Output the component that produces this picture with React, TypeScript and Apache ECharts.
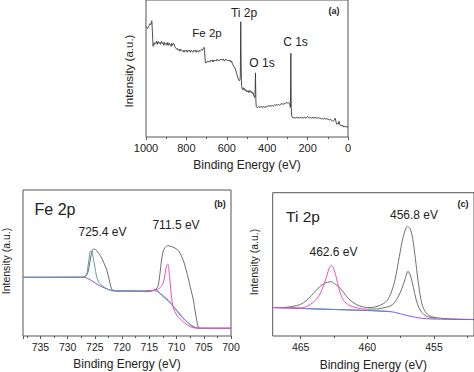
import { useEffect, useRef } from "react";
import * as echarts from "echarts";

const FONT = "'Liberation Sans', Arial, sans-serif";

// ---------- Panel (a): survey spectrum [binding energy eV, intensity a.u.] ----------
const surveyTicks = [1000, 800, 600, 400, 200, 0];
const surveyData: number[][] = [
  [1000, 112], [996, 111], [992, 110], [988, 112], [985, 113], [980, 115], [976, 114], [973, 117], [971, 118], [969, 110],
  [967, 100], [965, 92], [962, 95], [958, 94], [955, 96], [951, 95], [948, 97], [944, 94], [940, 97], [936, 95],
  [932, 96], [928, 94], [924, 97], [920, 95], [916, 96], [912, 93], [908, 96], [904, 94], [900, 95], [896, 93],
  [892, 96], [888, 93], [884, 95], [880, 94], [876, 92], [872, 95], [868, 93], [864, 95], [860, 94], [856, 91],
  [852, 90], [848, 89], [844, 90], [840, 88], [836, 89], [832, 87], [828, 89], [824, 88], [820, 87], [816, 88],
  [812, 86], [808, 88], [804, 87], [800, 88], [796, 86], [792, 88], [788, 87], [784, 88], [780, 86], [776, 88],
  [772, 87], [768, 86], [764, 88], [760, 87], [756, 88], [752, 86], [748, 88], [744, 87], [740, 86], [736, 88],
  [732, 87], [728, 88], [724, 89], [720, 88], [716, 90], [712, 91], [710, 88], [708, 80], [706, 76], [703, 75],
  [700, 76], [696, 77], [692, 76], [688, 77], [684, 76], [680, 78], [676, 77], [672, 78], [668, 76], [664, 78],
  [660, 77], [656, 78], [652, 77], [648, 79], [644, 78], [640, 77], [636, 78], [632, 79], [628, 78], [624, 79],
  [620, 78], [616, 79], [612, 77], [608, 78], [604, 79], [600, 78], [596, 77], [592, 78], [588, 77], [584, 78],
  [580, 76], [576, 77], [572, 74], [568, 73], [564, 71], [560, 70], [556, 68], [552, 65], [548, 62], [545, 60],
  [542, 58], [538, 57], [535, 58], [533, 62], [531, 117], [529, 72], [527, 52], [524, 49], [521, 48], [518, 50],
  [515, 48], [512, 49], [509, 47], [506, 48], [503, 46], [500, 47], [497, 46], [494, 47], [491, 45], [488, 47],
  [485, 46], [482, 47], [479, 45], [476, 46], [473, 44], [470, 45], [467, 42], [464, 41], [462, 40], [460, 44],
  [458, 65], [456, 36], [454, 31], [451, 30], [446, 30], [442, 31], [438, 30], [434, 31], [430, 30], [426, 31],
  [422, 30], [418, 31], [414, 30], [410, 31], [406, 30], [402, 31], [398, 31], [394, 32], [390, 31], [386, 32],
  [382, 31], [378, 32], [374, 32], [370, 31], [366, 32], [362, 33], [358, 32], [354, 33], [350, 32], [346, 33],
  [342, 33], [338, 32], [334, 33], [330, 34], [326, 33], [322, 34], [318, 33], [314, 34], [310, 34], [306, 35],
  [302, 35], [298, 34], [294, 35], [290, 34], [287, 32], [285, 30], [283, 85], [281, 30], [279, 22], [276, 20],
  [272, 20], [268, 19], [264, 20], [260, 19], [256, 20], [252, 20], [248, 19], [244, 20], [240, 19], [236, 20],
  [232, 20], [228, 19], [224, 20], [220, 19], [216, 20], [212, 20], [208, 19], [204, 20], [200, 21], [196, 20],
  [192, 19], [188, 20], [184, 20], [180, 19], [176, 20], [172, 19], [168, 20], [164, 19], [160, 20], [156, 19],
  [152, 19], [148, 20], [144, 19], [140, 19], [136, 19], [132, 18], [128, 19], [124, 19], [120, 18], [116, 19],
  [112, 18], [108, 19], [104, 18], [100, 18], [96, 18], [92, 17], [88, 18], [84, 17], [80, 17], [76, 16],
  [72, 16], [68, 17], [64, 19], [61, 17], [58, 14], [55, 13], [52, 14], [49, 13], [46, 15], [44, 16],
  [42, 13], [38, 12], [34, 12], [30, 11], [26, 12], [22, 10], [18, 11], [14, 10], [10, 11], [5, 10], [0, 10],
];

// ---------- Panel (b): Fe 2p ----------
const feRaw: number[][] = [
  [738.2, 58.7], [734, 58.7], [730, 58.8], [728, 58.8], [727.2, 59], [726.8, 59.5], [726.4, 62], [726.1, 68],
  [725.8, 78], [725.5, 85], [725.25, 87], [724.9, 86.5], [724.5, 84], [724.0, 80.5], [723.5, 75], [723.1, 70],
  [722.7, 64], [722.4, 57], [722.1, 50], [721.8, 46], [721.3, 45.2], [720, 45], [718, 45], [716.5, 44.8],
  [715.8, 44.3], [715, 44.6], [714.2, 45.5], [713.8, 46.7], [713.4, 50], [713.1, 60], [712.8, 74], [712.5, 84],
  [712.1, 88.5], [711.6, 90.3], [711.0, 89.5], [710.3, 88], [709.6, 85], [709.1, 80], [708.6, 73], [708.2, 65],
  [707.85, 58], [707.4, 47], [706.9, 36], [706.6, 25], [706.3, 16], [706.0, 9], [705.6, 7.8], [703, 7.7], [700, 7.7],
];
const feTeal: number[][] = [
  [738.2, 58.7], [730, 58.7], [727, 58.7], [726.6, 60], [726.3, 68], [726.0, 80], [725.8, 85], [725.6, 85],
  [725.3, 78], [725.0, 69], [724.7, 60], [724.3, 54], [723.8, 51], [723.2, 48.5], [722.5, 46.5], [721.9, 45.2],
  [718, 44.8], [716, 44.8], [714.2, 45.5], [713.7, 46], [712.8, 41], [712, 37], [711.2, 33.5], [710.4, 28],
  [709.7, 24.3], [708.8, 18], [708, 14], [707.5, 11], [706.9, 9], [706.3, 7.8], [705, 7.7], [700, 7.7],
];
const fePurple: number[][] = [
  [738.2, 58.7], [730, 58.7], [727, 58.6], [726.3, 57.5], [725.5, 55], [724.8, 52.5], [724, 50], [723.2, 48],
  [722.4, 46.3], [721.6, 45.3], [720, 45], [716, 45], [714.2, 45.6], [713.5, 44.5], [712.5, 40.5], [711.5, 35.5],
  [710.5, 29], [709.5, 22], [708.5, 16], [707.5, 11.5], [706.5, 8.5], [705.5, 7.7], [700, 7.7],
];
const feMagenta: number[][] = [
  [715.5, 45], [714.5, 45.6], [713.8, 46.3], [713.3, 47.2], [712.8, 49.5], [712.4, 54], [712.1, 62],
  [711.85, 70], [711.6, 72], [711.4, 66], [711.2, 55], [711.0, 43], [710.8, 34], [710.5, 27], [710.1, 22],
  [709.5, 18], [708.5, 13], [707.6, 9.5], [706.5, 8], [705.5, 7.7], [700, 7.7],
];

// ---------- Panel (c): Ti 2p ----------
const tiTicks = [465, 460, 455];
const tiMinorTicks = [462.5, 457.5, 452.5];
const tiRaw: number[][] = [
  [467.1, 28.6], [466.5, 28.6], [466, 29], [465.5, 30], [465, 31.8], [464.6, 35.5], [464.2, 40.5], [463.8, 46.5],
  [463.4, 51.5], [463, 54], [462.7, 54.5], [462.4, 52], [462, 47.5], [461.6, 40.5], [461.2, 35], [460.8, 31.5],
  [460.4, 29.5], [460, 28.6], [459.6, 28.8], [459.2, 30], [458.8, 32.5], [458.5, 36], [458.2, 44], [457.9, 58],
  [457.6, 80], [457.3, 100], [457, 110], [456.8, 108], [456.6, 98], [456.4, 78], [456.2, 56], [456, 38],
  [455.8, 28], [455.5, 22], [455.2, 19.5], [454.8, 18.4], [454.3, 17.6], [453.5, 17.1], [452.8, 16.8], [452, 16.6],
];
const tiInner: number[][] = [
  [460, 27], [459.2, 27.3], [458.7, 28.5], [458.3, 30], [458, 33], [457.7, 39], [457.4, 48], [457.15, 58],
  [456.95, 65], [456.75, 60], [456.55, 49], [456.35, 37], [456.15, 29], [455.9, 23.5], [455.6, 20], [455.2, 18.5],
  [454.8, 18],
];
const tiMagenta: number[][] = [
  [467.1, 28.5], [466, 28.2], [465, 28.2], [464.5, 30], [464, 34.5], [463.6, 41], [463.3, 50], [463.05, 60],
  [462.85, 69], [462.7, 71], [462.5, 67], [462.3, 57], [462.05, 44], [461.8, 36], [461.4, 31], [461, 29],
  [460.5, 27.5], [460, 27],
];
const tiPurple: number[][] = [
  [467.1, 28.7], [466, 28.2], [465, 27.7], [464, 27.2], [463, 26.8], [462, 26.4], [461, 26], [460, 25.6],
  [459, 25], [458.5, 24.6], [458.1, 24.2], [457.7, 23], [457.35, 21.7], [457, 20.5], [456.6, 19.4], [456.2, 18.3],
  [455.86, 17.7], [455.3, 17.2], [454.5, 16.9], [453.5, 16.7], [452, 16.5],
];
const tiTeal: number[][] = [
  [467.1, 28.6], [466, 28.2], [465, 27.8], [464, 27.3], [463, 26.9], [462, 26.5], [461, 26.1], [460, 25.8],
  [459, 25.2], [458.3, 24.7],
];

const GRAY = "#6f6f6f";
const TEAL = "#5f9ea3";
const PURPLE = "#8a55d6";
const MAGENTA = "#f04ccb";
const BLUE = "#5a90bb";
const TXT = "#222";

function line(data: number[][], color: string, xi: number, smooth: number | boolean, width = 1) {
  return {
    type: "line",
    xAxisIndex: xi,
    yAxisIndex: xi,
    data,
    showSymbol: false,
    symbol: "none",
    smooth,
    lineStyle: { color, width },
    silent: true,
  };
}

function text(t: string, x: number, y: number, size: number, bold = false, rotate = 0) {
  return {
    type: "text",
    x,
    y,
    rotation: rotate,
    silent: true,
    style: {
      text: t,
      fill: TXT,
      font: `${bold ? "bold " : ""}${size}px ${FONT}`,
      align: "center",
      verticalAlign: "middle",
    },
  };
}

const plain = (v: number) => String(v);

export default function App() {
  const ref = useRef<HTMLDivElement>(null);

  useEffect(() => {
    if (!ref.current) return;
    const chart = echarts.init(ref.current, undefined, { renderer: "svg" });

    const gridBase = { show: true, borderColor: "#555", borderWidth: 1, backgroundColor: "transparent" };
    const xBase = {
      type: "value",
      inverse: true,
      position: "bottom",
      axisLine: { show: false },
      splitLine: { show: false },
      nameLocation: "middle",
      nameTextStyle: { fontFamily: FONT, fontSize: 12, color: TXT },
    };
    const yBase = {
      type: "value",
      min: 0,
      show: false,
      splitLine: { show: false },
    };

    chart.setOption({
      animation: false,
      backgroundColor: "#fff",
      grid: [
        { ...gridBase, left: 146, right: 126, top: -2, bottom: 235 },
        { ...gridBase, left: 23, right: 243, top: 190, bottom: 36 },
        { ...gridBase, left: 272.7, right: -1, top: 192.7, bottom: 35.3 },
      ],
      xAxis: [
        {
          ...xBase,
          gridIndex: 0,
          min: 0,
          max: 1000,
          interval: 200,
          name: "Binding Energy (eV)",
          nameGap: 22,
          axisTick: { show: true, inside: false, length: 3, lineStyle: { color: "#555" } },
          minorTick: { show: true, splitNumber: 2, length: 2, lineStyle: { color: "#555" } },
          axisLabel: {
            margin: 5,
            fontFamily: FONT,
            fontSize: 11,
            color: TXT,
            formatter: plain,
            customValues: surveyTicks,
          },
        },
        {
          ...xBase,
          gridIndex: 1,
          min: 700,
          max: 738.2,
          interval: 5,
          name: "Binding Energy (eV)",
          nameGap: 22,
          axisTick: { show: true, inside: false, length: 3, lineStyle: { color: "#555" } },
          minorTick: { show: true, splitNumber: 2, length: 2, lineStyle: { color: "#555" } },
          axisLabel: { margin: 5, fontFamily: FONT, fontSize: 10.5, color: TXT, formatter: plain, showMaxLabel: false },
        },
        {
          ...xBase,
          gridIndex: 2,
          min: 452,
          max: 467.1,
          name: "Binding Energy (eV)",
          nameGap: 23,
          axisTick: { show: true, inside: false, length: 3, customValues: tiTicks, lineStyle: { color: "#555" } },
          axisLabel: { margin: 5, fontFamily: FONT, fontSize: 10.5, color: TXT, formatter: plain, customValues: tiTicks },
        },
        {
          ...xBase,
          gridIndex: 2,
          min: 452,
          max: 467.1,
          axisTick: { show: true, inside: false, length: 2, customValues: tiMinorTicks, lineStyle: { color: "#555" } },
          axisLabel: { show: false, customValues: tiMinorTicks },
        },
      ],
      yAxis: [
        { ...yBase, gridIndex: 0, max: 139 },
        { ...yBase, gridIndex: 1, max: 146 },
        { ...yBase, gridIndex: 2, max: 144 },
      ],
      series: [
        { ...line(surveyData, "#3a3a3a", 0, false, 0.9) },
        { ...line(feRaw, GRAY, 1, 0.3) },
        { ...line(fePurple, PURPLE, 1, 0.3) },
        { ...line(feTeal, TEAL, 1, 0.3) },
        { ...line(feMagenta, MAGENTA, 1, 0.3) },
        { ...line(tiRaw, GRAY, 2, 0.3), xAxisIndex: 2, yAxisIndex: 2 },
        { ...line(tiInner, GRAY, 2, 0.3), xAxisIndex: 2, yAxisIndex: 2 },
        { ...line(tiPurple, PURPLE, 2, 0.3), xAxisIndex: 2, yAxisIndex: 2 },
        { ...line(tiTeal, BLUE, 2, 0.3), xAxisIndex: 2, yAxisIndex: 2 },
        { ...line(tiMagenta, MAGENTA, 2, 0.3), xAxisIndex: 2, yAxisIndex: 2 },
      ],
      graphic: [
        text("Intensity (a.u.)", 129, 71, 11.5, false, Math.PI / 2),
        text("Intensity (a.u.)", 6, 261, 10.5, false, Math.PI / 2),
        text("Intensity (a.u.)", 254, 262, 10.5, false, Math.PI / 2),
        text("Fe 2p", 207, 33, 11.5),
        text("Ti 2p", 244, 12.5, 12),
        text("O 1s", 262, 62.5, 12),
        text("C 1s", 295.5, 42, 12),
        text("(a)", 334, 10.5, 9, true),
        text("Fe 2p", 55, 209, 16),
        text("(b)", 220, 204, 9, true),
        text("725.4 eV", 102.5, 232, 12),
        text("711.5 eV", 176, 224.5, 12),
        text("Ti 2p", 303, 216, 15.5),
        text("(c)", 463, 204, 9, true),
        text("456.8 eV", 414, 214.5, 12),
        text("462.6 eV", 333.5, 252, 12),
      ],
    });

    return () => chart.dispose();
  }, []);

  return (
    <div
      ref={ref}
      style={{ position: "fixed", left: 0, top: 0, width: 474, height: 372, background: "#fff" }}
    />
  );
}
